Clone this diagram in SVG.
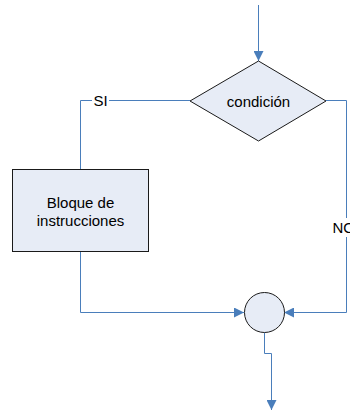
<svg xmlns="http://www.w3.org/2000/svg" width="350" height="416" viewBox="0 0 350 416">
<style>
.shape{fill:#e7ecf6;stroke:#1a1a1a;stroke-width:1}
.conn{fill:none;stroke:#4a7ebb;stroke-width:1}
.lbl{font-family:"Liberation Sans",Arial,sans-serif;font-size:15px;fill:#000}
</style>
<defs>
<marker id="arr" viewBox="0 0 10 10" refX="10" refY="5" markerWidth="10" markerHeight="10" markerUnits="userSpaceOnUse" orient="auto">
<path d="M0,0 L10,5 L0,10 z" fill="#4a7ebb"/>
</marker>
</defs>
<rect width="350" height="416" fill="#fff"/>
<g id="connectors">
<path class="conn" d="M258.5,5 V61" marker-end="url(#arr)"/>
<path class="conn" d="M190,100.5 H80.5 V169"/>
<path class="conn" d="M326,100.5 H346.5 V312.5 H284" marker-end="url(#arr)"/>
<path class="conn" d="M80.5,251 V312.5 H244" marker-end="url(#arr)"/>
<path class="conn" d="M264.5,333 V353.5 H271.5 V410" marker-end="url(#arr)"/>
<rect x="92" y="92" width="17" height="17" fill="#fff"/>
<text class="lbl" x="100.5" y="106" text-anchor="middle">SI</text>
<rect x="332" y="218" width="18" height="19" fill="#fff"/>
<text class="lbl" x="332.5" y="233">NO</text>
</g>
<g id="condicion">
<polygon class="shape" points="258.5,61 326,101 258.5,141 190,101"/>
<text class="lbl" x="258.5" y="106.5" text-anchor="middle">condición</text>
</g>
<g id="bloque">
<rect class="shape" x="12.5" y="169.5" width="136" height="82"/>
<text class="lbl" x="80.5" y="208" text-anchor="middle">Bloque de</text>
<text class="lbl" x="80.5" y="225.5" text-anchor="middle">instrucciones</text>
</g>
<g id="union">
<circle class="shape" cx="264.5" cy="312.5" r="20"/>
</g>
</svg>
